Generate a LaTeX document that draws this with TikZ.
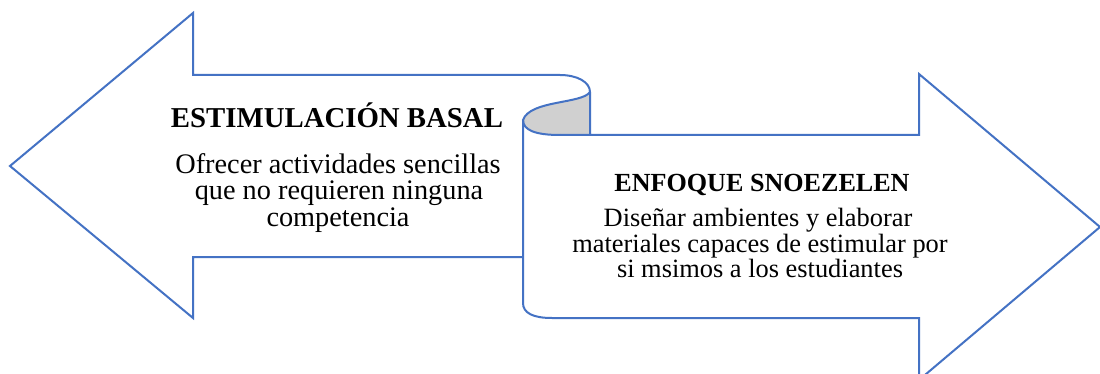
\documentclass[tikz,border=0pt]{standalone}
\usepackage{fontspec}
\setmainfont{Liberation Serif}
\definecolor{edgeblue}{HTML}{4472C4}
\definecolor{curlgray}{HTML}{D0D0D0}
\begin{document}
\begin{tikzpicture}[x=1pt,y=-1pt,
  outline/.style={draw=edgeblue,line width=2pt,line join=miter},
  ltitle/.style={anchor=base,inner sep=0pt,font=\fontsize{28.8}{26}\selectfont\bfseries},
  lbody/.style={anchor=base,inner sep=0pt,font=\fontsize{28.3}{26}\selectfont},
  rtitle/.style={anchor=base,inner sep=0pt,font=\fontsize{26.1}{26}\selectfont\bfseries},
  rbody/.style={anchor=base,inner sep=0pt,font=\fontsize{26.4}{26}\selectfont}]
\clip (0,0) rectangle (1100,374);
\fill[white] (0,0) rectangle (1100,374);
% gray curl
\fill[curlgray] (590,92) .. controls (582,104) and (530,100) .. (523,120)
  .. controls (523,130) and (535,135) .. (560,135) -- (590,135) -- cycle;
% left arrow
\draw[outline] (523,257) -- (193,257) -- (193,318) -- (10,166) -- (193,13) -- (193,75)
  -- (560,75) .. controls (577,75) and (590,82) .. (590,92);
% curl inner edges
\draw[outline] (590,92) .. controls (582,104) and (530,100) .. (523,120)
  .. controls (523,130) and (535,135) .. (560,135);
% right arrow with scroll
\draw[outline] (590,92) -- (590,135) -- (560,135) (590,135) -- (919,135) -- (919,74) -- (1100,227) -- (919,380)
  -- (919,318) -- (552,318) .. controls (533,318) and (523,313) .. (523,303) -- (523,120);
% texts
\node[ltitle] (t1) at (337,128) {ESTIMULACIÓN BASAL};
\node[lbody] (b1) at (338,174) {Ofrecer actividades sencillas};
\node[lbody] (b2) at (339,200) {que no requieren ninguna};
\node[lbody] (b3) at (338,226) {competencia};
\node[rtitle] (t2) at (762,192) {ENFOQUE SNOEZELEN};
\node[rbody] (c1) at (758,226) {Diseñar ambientes y elaborar};
\node[rbody] (c2) at (760,252) {materiales capaces de estimular por};
\node[rbody] (c3) at (760,277) {si msimos a los estudiantes};
\end{tikzpicture}
\end{document}
